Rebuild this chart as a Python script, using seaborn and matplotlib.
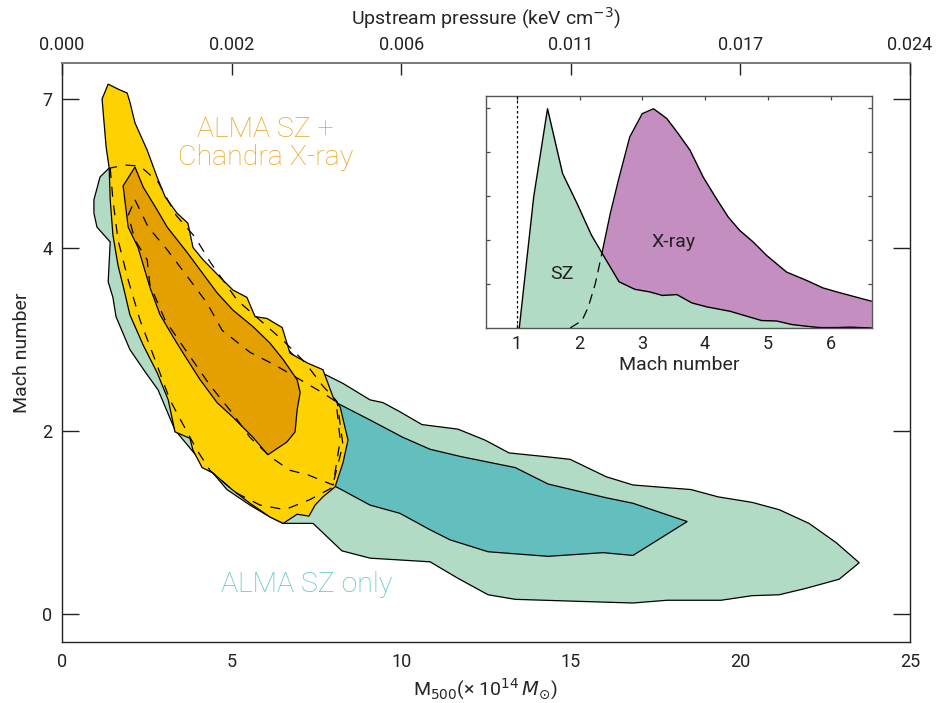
import numpy as np
import pandas as pd
import matplotlib
matplotlib.use("Agg")
import matplotlib.pyplot as plt
import seaborn as sns

# --- main panel: credible regions (mass in 1e14 Msun, Mach number) ---
sz95_mass = [1.42, 1.12, 0.94, 0.94, 1.03, 1.42, 1.36, 1.50, 1.59, 2.00, 2.48, 2.83, 3.33,
             4.07, 4.45, 4.86, 5.54, 6.13, 6.52, 7.40, 8.25, 9.08, 10.85, 11.67, 12.56,
             13.36, 15.06, 16.83, 17.84, 19.43, 20.34, 21.14, 21.93, 22.91, 23.50, 22.82,
             22.02, 21.14, 20.34, 19.34, 18.54, 17.84, 16.83, 16.04, 14.98, 14.24, 13.18,
             12.47, 11.67, 10.61, 9.96, 9.46, 9.08, 8.28, 7.69, 7.02, 6.13, 5.25, 4.51,
             3.92, 3.63, 3.18, 2.59, 2.00]
sz95_mach = [5.63, 5.43, 4.97, 4.70, 4.42, 4.12, 3.63, 3.46, 3.25, 2.89, 2.63, 2.45, 2.01,
             1.68, 1.54, 1.36, 1.19, 1.06, 0.99, 0.99, 0.69, 0.61, 0.57, 0.39, 0.21,
             0.16, 0.14, 0.12, 0.15, 0.15, 0.20, 0.21, 0.28, 0.38, 0.56, 0.78,
             0.99, 1.14, 1.22, 1.28, 1.36, 1.38, 1.41, 1.50, 1.69, 1.72, 1.76,
             1.90, 2.02, 2.07, 2.21, 2.31, 2.34, 2.52, 2.63, 2.75, 3.10, 3.32, 3.60,
             3.81, 4.26, 4.77, 5.37, 5.67]

sz68_mass = [8.08, 9.08, 10.05, 10.85, 11.76, 13.36, 14.33, 16.04, 16.83, 18.43, 16.83,
             15.95, 14.33, 12.56, 11.44, 10.85, 9.96, 9.08, 8.08, 7.02, 6.72]
sz68_mach = [2.31, 2.12, 1.93, 1.80, 1.72, 1.60, 1.42, 1.27, 1.21, 1.01, 0.64,
             0.67, 0.63, 0.68, 0.81, 0.92, 1.10, 1.19, 1.39, 1.57, 2.12]

joint95_mass = [1.36, 1.65, 1.92, 2.00, 2.15, 2.51, 2.80, 3.04, 3.39, 3.71, 3.86, 4.16,
                4.66, 5.04, 5.45, 5.69, 6.04, 6.49, 6.72, 7.25, 7.69, 7.99, 8.20, 8.43,
                8.28, 8.05, 7.69, 7.46, 7.28, 6.93, 6.52, 6.13, 5.54, 5.01, 4.45, 4.13,
                3.86, 3.77, 3.33, 3.13, 2.80, 2.39, 2.00, 1.83, 1.65, 1.50, 1.42, 1.39,
                1.30, 1.18]
joint95_mach = [7.30, 7.20, 7.12, 6.94, 6.52, 5.97, 5.43, 5.03, 4.70, 4.50, 4.01, 3.87,
                3.68, 3.54, 3.46, 3.25, 3.23, 3.13, 2.85, 2.74, 2.67, 2.37, 2.26, 1.90,
                1.65, 1.39, 1.28, 1.19, 1.07, 1.09, 0.99, 1.06, 1.21, 1.36, 1.54, 1.60,
                1.79, 1.92, 1.99, 2.34, 2.64, 2.94, 3.27, 3.54, 3.81, 4.26, 4.97, 5.61,
                6.03, 7.00]

joint68_mass = [2.15, 1.80, 1.95, 2.24, 2.59, 2.89, 3.27, 3.57, 4.07, 4.57, 5.04, 5.63,
                6.07, 6.63, 6.87, 6.93, 7.02, 6.93, 6.52, 6.13, 5.63, 5.04, 4.57, 4.07,
                3.69, 3.10, 2.80, 2.39]
joint68_mach = [5.63, 5.25, 4.42, 4.01, 3.57, 3.27, 3.03, 2.85, 2.56, 2.31, 2.15, 1.93,
                1.74, 1.88, 1.99, 2.23, 2.42, 2.56, 2.78, 2.96, 3.14, 3.32, 3.51, 3.76,
                3.95, 4.42, 4.77, 5.23]

# dashed contours drawn over the joint regions
dash_outer_mass = [1.42, 1.50, 1.65, 1.95, 2.30, 2.74, 3.18, 3.54, 3.98, 4.36, 5.10, 5.84,
                   6.57, 7.31, 7.96, 8.28, 8.11, 7.67, 7.16, 6.57, 5.90, 5.16, 4.36, 3.92,
                   3.36, 2.83, 2.30, 1.86, 1.42]
dash_outer_mach = [5.61, 4.97, 4.16, 3.65, 3.21, 2.78, 2.34, 2.09, 1.79, 1.57, 1.33, 1.19,
                   1.14, 1.25, 1.38, 1.85, 2.32, 2.50, 2.75, 2.97, 3.19, 3.43, 3.85, 4.22,
                   4.66, 5.33, 5.65, 5.67, 5.61]
dash_inner_mass = [2.15, 2.54, 3.10, 3.77, 4.27, 4.72, 5.54, 6.28, 7.02, 7.67, 8.08, 8.20,
                   7.99, 7.25, 6.72, 6.13, 5.54, 5.01, 4.36, 3.63, 3.04, 2.59, 2.51, 2.15,
                   1.95, 2.15]
dash_inner_mach = [4.97, 4.42, 3.98, 3.65, 3.40, 3.10, 2.86, 2.72, 2.56, 2.42, 2.32, 1.90,
                   1.41, 1.52, 1.57, 1.72, 1.93, 2.20, 2.50, 2.89, 3.21, 3.60, 3.87, 4.16,
                   4.66, 4.97]

mass_ticks = [0, 5, 10, 15, 20, 25]
pressure_labels = ["0.000", "0.002", "0.006", "0.011", "0.017", "0.024"]
mach_ticks = [0, 2, 4, 7]

# --- inset: marginal Mach number distributions ---
sz_m = [1.04, 1.27, 1.49, 1.73, 1.96, 2.19, 2.38, 2.63, 2.88, 3.12, 3.32, 3.55, 3.79,
        4.03, 4.40, 4.66, 4.90, 5.14, 5.38, 5.62, 5.83, 6.10, 6.31, 6.65]
sz_p = [0.0, 2.98, 4.98, 3.51, 2.83, 2.11, 1.65, 1.05, 0.88, 0.82, 0.74, 0.76, 0.57,
        0.48, 0.38, 0.27, 0.17, 0.16, 0.08, 0.04, 0.01, 0.01, 0.02, 0.0]
xr_m = [1.85, 2.04, 2.14, 2.25, 2.35, 2.49, 2.62, 2.80, 3.00, 3.18, 3.39, 3.57, 3.76,
        3.97, 4.18, 4.37, 4.55, 4.77, 4.98, 5.30, 5.62, 5.88, 6.10, 6.36, 6.65]
xr_p = [0.0, 0.17, 0.48, 1.00, 1.65, 2.60, 3.36, 4.34, 4.87, 4.98, 4.76, 4.42, 4.04,
        3.43, 2.94, 2.52, 2.22, 1.95, 1.65, 1.27, 1.08, 0.91, 0.82, 0.72, 0.61]
xr_hidden = 5  # first points lie under the SZ curve (drawn dashed)

c_sz95 = "#b2dbc5"
c_sz68 = "#62bfbe"
c_j95 = "#fdd200"
c_j68 = "#e3a000"
c_xray = "#c58ec0"

sns.set_theme(style="white")
plt.rcParams["font.family"] = ["Roboto", "DejaVu Sans"]
plt.rcParams["mathtext.fontset"] = "dejavusans"
plt.rcParams["text.color"] = "#222222"


def fwd(m):
    m = np.asarray(m, dtype=float)
    return np.where(m <= 4, m, 4 + (m - 4) / 1.843)


def inv(d):
    d = np.asarray(d, dtype=float)
    return np.where(d <= 4, d, 4 + (d - 4) * 1.843)


fig = plt.figure(figsize=(9.5, 7.03), dpi=100)
ax = fig.add_axes([0.0653, 0.0868, 0.8927, 0.8232])
ax.set_yscale("function", functions=(fwd, inv))

edge = dict(edgecolor="black", linewidth=0.9)
ax.fill(sz95_mass, sz95_mach, facecolor=c_sz95, zorder=1, **edge)
ax.fill(sz68_mass, sz68_mach, facecolor=c_sz68, zorder=2, **edge)
ax.fill(joint95_mass, joint95_mach, facecolor=c_j95, zorder=3, **edge)
ax.fill(joint68_mass, joint68_mach, facecolor=c_j68, zorder=4, **edge)
ax.plot(dash_outer_mass, dash_outer_mach, color="black", lw=0.9, ls=(0, (8, 7)), zorder=5)
ax.plot(dash_inner_mass, dash_inner_mach, color="black", lw=0.9, ls=(0, (8, 7)), zorder=5)

ax.set_xlim(0, 25)
ax.set_ylim(-0.306, 7.72)
ax.set_xticks(mass_ticks)
ax.set_yticks(mach_ticks)
ax.set_yticklabels([str(t) for t in mach_ticks])
ax.minorticks_off()
ax.tick_params(axis="x", direction="in", length=8.6, width=1, labelsize=13, pad=8,
               top=False, colors="#222222")
ax.tick_params(axis="y", direction="in", length=12, width=1, labelsize=13, pad=7,
               left=True, right=True, colors="#222222")
ax.set_xlabel(r"M$_{500}$(× 10$^{14}$$\,M_{\odot}$)", fontsize=14, labelpad=4)
ax.set_ylabel("Mach number", fontsize=14, labelpad=8)
for side in ["left", "bottom", "right"]:
    ax.spines[side].set_color("#222222")
    ax.spines[side].set_linewidth(1)
ax.spines["top"].set_color("#7a7a7a")

top = ax.secondary_xaxis("top")
top.set_xticks(mass_ticks)
top.set_xticklabels(pressure_labels)
top.tick_params(direction="in", length=8.6, width=1, labelsize=13, pad=7, colors="#222222")
top.spines["top"].set_color("#7a7a7a")
top.set_xlabel("Upstream pressure (keV cm$^{-3}$)", fontsize=14, labelpad=8)

ax.text(6.0, 6.1, "ALMA SZ +\nChandra X-ray", color="#e9a41c", fontsize=20.5,
        fontweight="light", ha="center", va="center", linespacing=1.05, zorder=6)
ax.text(7.22, 0.32, "ALMA SZ only", color="#5cc3c2", fontsize=20.5,
        fontweight="light", ha="center", va="center", zorder=6)

# inset
ins = fig.add_axes([0.5116, 0.5334, 0.4063, 0.33])
df_sz = pd.DataFrame({"mach": sz_m, "p": sz_p})
df_xr = pd.DataFrame({"mach": xr_m, "p": xr_p})
ins.fill_between(df_xr["mach"], 0, df_xr["p"], color=c_xray, lw=0, zorder=1)
ins.fill_between(df_sz["mach"], 0, df_sz["p"], color=c_sz95, lw=0, zorder=2)
sns.lineplot(data=df_sz, x="mach", y="p", color="black", lw=1, ax=ins, zorder=3,
             sort=False, estimator=None)
sns.lineplot(data=df_xr.iloc[xr_hidden - 1:], x="mach", y="p", color="black", lw=1,
             ax=ins, zorder=3, sort=False, estimator=None)
ins.plot(df_xr["mach"][:xr_hidden], df_xr["p"][:xr_hidden], color="black", lw=0.9,
         ls=(0, (8, 5)), zorder=3)
ins.axvline(1, color="black", lw=0.9, ls=(0, (2, 2)), zorder=4)
ins.set_xlim(0.51, 6.66)
ins.set_ylim(0, 5.27)
ins.set_xticks([1, 2, 3, 4, 5, 6])
ins.set_yticks([1, 2, 3, 4, 5])
ins.set_yticklabels([])
ins.tick_params(direction="in", length=3, width=0.9, top=True, right=True, left=True,
                bottom=True, labelsize=13, pad=5, colors="#444444", labelcolor="#222222")
ins.set_xlabel("Mach number", fontsize=14, labelpad=2)
ins.set_ylabel("")
for s in ins.spines.values():
    s.set_color("#555555")
    s.set_linewidth(1)
ins.text(1.72, 1.23, "SZ", fontsize=14, ha="center", va="center", zorder=5)
ins.text(3.49, 1.95, "X-ray", fontsize=14, ha="center", va="center", zorder=5)

fig.savefig("out.png", dpi=100, facecolor="white")
